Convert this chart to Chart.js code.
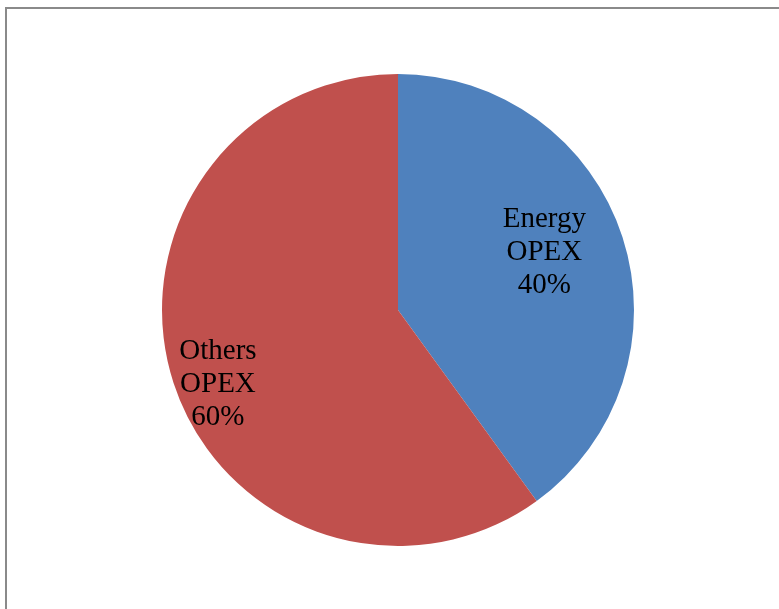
<!DOCTYPE html>
<html>
<head>
<meta charset="utf-8">
<script src="https://cdn.jsdelivr.net/npm/chart.js@4/dist/chart.umd.min.js"></script>
<style>
  html, body { margin: 0; padding: 0; background: #fff; overflow: hidden; }
  #wrap { position: relative; width: 779px; height: 609px; }
  #frame { position: absolute; left: 5px; top: 7px; width: 800px; height: 700px;
           border: 2px solid #8a8a8a; box-sizing: border-box; }
  #opex { position: absolute; left: 0; top: 0; }
</style>
</head>
<body>
<div id="wrap">
  <div id="frame"></div>
  <canvas id="opex" width="779" height="609"></canvas>
</div>
<script>
const categories = ['Energy OPEX', 'Others OPEX'];
const shares = [40, 60];
const sliceColors = ['#4f81bd', '#c0504d'];

// labels sit inside each slice, drawn on up to three lines
const sliceLabels = {
    id: 'sliceLabels',
    afterDatasetsDraw(chart, args, opts) {
        const ctx = chart.ctx;
        const meta = chart.getDatasetMeta(0);
        const total = shares.reduce((a, b) => a + b, 0);
        ctx.save();
        ctx.font = opts.font;
        ctx.fillStyle = '#000';
        ctx.textAlign = 'center';
        ctx.textBaseline = 'middle';
        meta.data.forEach((arc, i) => {
            const { x, y, startAngle, endAngle, outerRadius } = arc.getProps(['x', 'y', 'startAngle', 'endAngle', 'outerRadius'], true);
            const mid = (startAngle + endAngle) / 2;
            const r = outerRadius * opts.radius[i];
            const cx = x + Math.cos(mid) * r + opts.nudge[i][0];
            const cy = y + Math.sin(mid) * r + opts.nudge[i][1];
            const words = categories[i].split(' ');
            const lines = [...words, Math.round(shares[i] / total * 100) + '%'];
            const h = opts.lineHeight;
            lines.forEach((t, k) => {
                ctx.fillText(t, cx, cy + (k - (lines.length - 1) / 2) * h);
            });
        });
        ctx.restore();
    }
};

new Chart(document.getElementById('opex'), {
    type: 'pie',
    data: {
        labels: categories,
        datasets: [{
            data: shares,
            backgroundColor: sliceColors,
            borderWidth: 0
        }]
    },
    options: {
        responsive: false,
        animation: false,
        layout: { padding: { left: 162, right: 145, top: 74, bottom: 63 } },
        plugins: {
            legend: { display: false },
            tooltip: { enabled: false },
            sliceLabels: {
                font: '29px "Liberation Serif"',
                lineHeight: 33,
                radius: [0.67, 0.82],
                nudge: [[-4, -9], [4, 15]]
            }
        }
    },
    plugins: [sliceLabels]
});
</script>
</body>
</html>
